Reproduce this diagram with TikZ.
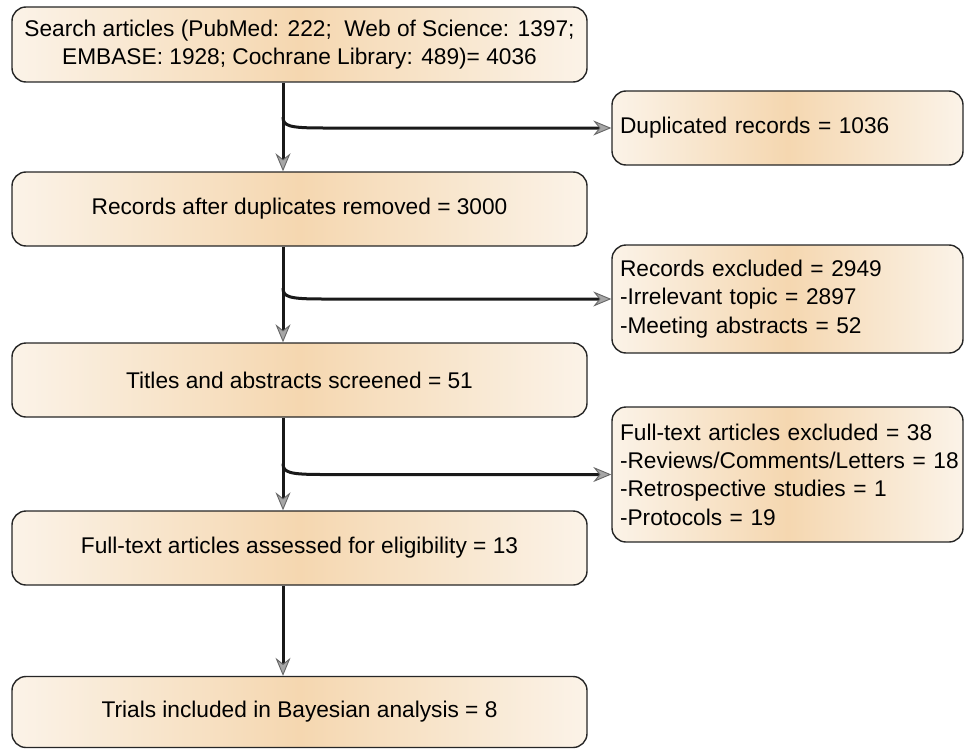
\documentclass[tikz,border=0pt]{standalone}
\usepackage{fontspec}
\setmainfont{Liberation Sans}
\usetikzlibrary{arrows.meta,calc}
\definecolor{edgecream}{HTML}{FBF3E8}
\definecolor{midpeach}{HTML}{F5D7B0}
\begin{document}
\begin{tikzpicture}[x=1pt,y=-1pt,
 box/.style={draw=black!85, line width=1.4pt, rounded corners=14pt,
   left color=edgecream, right color=edgecream, middle color=midpeach,
   font=\fontsize{22.7}{28.4}\selectfont, inner sep=0pt},
 lbox/.style={box, minimum width=575pt, minimum height=74pt, align=center},
 rbox/.style={box, text width=335pt, inner xsep=8pt, align=left},
 conn/.style={line width=3pt, draw=black!90,
   -{Stealth[length=18pt,width=15pt,inset=6pt,line width=0.9pt,color=black!60,fill=black!35]}}
]
\useasboundingbox (0,0) rectangle (965,749);

\node[lbox, minimum height=75pt] (b1) at (299.5,44.5)
  {Search articles (PubMed: 222;\ \ Web of Science: 1397;\\EMBASE: 1928; Cochrane Library: 489)= 4036};
\node[lbox] (b2) at (299.5,209) {Records after duplicates removed = 3000};
\node[lbox] (b3) at (299.5,380) {Titles and abstracts screened = 51};
\node[lbox] (b4) at (299.5,548) {Full-text articles assessed for eligibility = 13};
\node[lbox, minimum height=71pt] (b5) at (299.5,712) {Trials included in Bayesian analysis = 8};

\node[rbox, minimum height=74pt] (d1) at (787.5,128) {\mbox{Duplicated records = 1036}};
\node[rbox, minimum height=108pt] (e1) at (787.5,299)
  {\mbox{Records excluded = 2949}\\\mbox{-Irrelevant topic = 2897}\\\mbox{-Meeting abstracts = 52}};
\node[rbox, minimum height=135pt] (e2) at (787.5,474.5)
  {\mbox{Full-text articles excluded = 38}\\\mbox{-Reviews/Comments/Letters = 18}\\\mbox{-Retrospective studies = 1}\\\mbox{-Protocols = 19}};

\coordinate (vx) at (283,0);

\draw[conn] (b1.south -| vx) -- (b2.north -| vx);
\draw[conn] (b2.south -| vx) -- (b3.north -| vx);
\draw[conn] (b3.south -| vx) -- (b4.north -| vx);
\draw[conn] (b4.south -| vx) -- (b5.north -| vx);

\draw[conn] ($(vx |- d1.west)+(0,-11)$) .. controls ($(vx |- d1.west)+(0,-2)$) and ($(vx |- d1.west)+(6,0)$) .. ($(vx |- d1.west)+(40,0)$) -- (d1.west);
\draw[conn] ($(vx |- e1.west)+(0,-11)$) .. controls ($(vx |- e1.west)+(0,-2)$) and ($(vx |- e1.west)+(6,0)$) .. ($(vx |- e1.west)+(40,0)$) -- (e1.west);
\draw[conn] ($(vx |- e2.west)+(0,-11)$) .. controls ($(vx |- e2.west)+(0,-2)$) and ($(vx |- e2.west)+(6,0)$) .. ($(vx |- e2.west)+(40,0)$) -- (e2.west);
\end{tikzpicture}
\end{document}
